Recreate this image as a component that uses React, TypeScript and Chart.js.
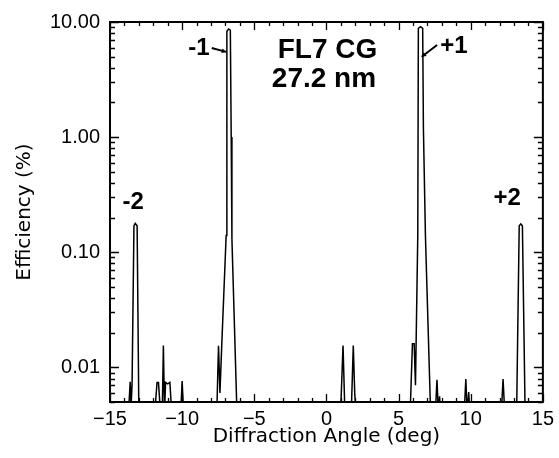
import React, { useEffect, useRef } from "react";
import { Chart, registerables } from "chart.js";

Chart.register(...registerables);

// Diffraction angle (deg) of each sample
const angles = [
  -15.0, -13.72, -13.6, -13.54, -13.47, -13.34, -13.25, -13.12, -13.0,
  -11.9, -11.74, -11.64, -11.5, -11.38, -11.3, -11.22, -11.15, -11.0, -10.85, -10.72,
  -10.1, -10.0, -9.9,
  -7.6, -7.48, -7.38, -7.26, -6.95, -6.9, -6.78, -6.66, -6.6, -6.55, -6.2,
  0.98, 1.15, 1.28, 1.72, 1.86, 1.96, 2.05,
  5.8, 5.96, 6.08, 6.17, 6.33, 6.37, 6.52, 6.67, 6.72, 6.86, 7.22,
  7.55, 7.66, 7.76, 7.84, 7.9,
  9.55, 9.66, 9.76, 9.86, 9.94,
  12.12, 12.24, 12.36,
  13.18, 13.36, 13.47, 13.58, 13.77, 15.0,
];

// Efficiency (%) of each sample (values under 0.005 fall below the axis floor)
const efficiency = [
  0.004, 0.004, 0.0075, 0.0045, 0.0072, 0.17, 0.178, 0.17, 0.004,
  0.004, 0.0074, 0.0074, 0.004, 0.004, 0.0155, 0.004, 0.0074, 0.0072, 0.0074, 0.004,
  0.004, 0.0076, 0.004,
  0.004, 0.0154, 0.006, 0.015, 0.14, 8.3, 8.7, 8.5, 1.0, 0.13, 0.004,
  0.004, 0.0155, 0.004, 0.004, 0.0155, 0.006, 0.004,
  0.004, 0.016, 0.016, 0.007, 0.14, 8.8, 9.1, 8.8, 1.2, 0.14, 0.004,
  0.004, 0.0078, 0.004, 0.0056, 0.004,
  0.004, 0.0079, 0.004, 0.0061, 0.004,
  0.004, 0.0079, 0.004,
  0.004, 0.17, 0.176, 0.17, 0.004, 0.004,
];

const xTickValues = [-15, -10, -5, 0, 5, 10, 15];
const yTickValues = [0.01, 0.1, 1, 10];
const xMin = -15;
const xMax = 15;
const yMin = 0.005;
const yMax = 10;

const xTitle = "Diffraction Angle (deg)";
const yTitle = "Efficiency (%)";
const sampleName = "FL7 CG";
const wavelengthLabel = "27.2 nm";
const orderNames = ["-2", "-1", "+1", "+2"];

const tickFont = "'Liberation Sans', Arial, Helvetica, sans-serif";
const titleFont = "'DejaVu Sans', Verdana, sans-serif";

function arrow(ctx: CanvasRenderingContext2D, x1: number, y1: number, x2: number, y2: number) {
  ctx.beginPath();
  ctx.moveTo(x1, y1);
  ctx.lineTo(x2, y2);
  ctx.stroke();
  const ang = Math.atan2(y2 - y1, x2 - x1);
  const s = 5;
  ctx.beginPath();
  ctx.moveTo(x2, y2);
  ctx.lineTo(x2 - s * Math.cos(ang - 0.5), y2 - s * Math.sin(ang - 0.5));
  ctx.lineTo(x2 - s * Math.cos(ang + 0.5), y2 - s * Math.sin(ang + 0.5));
  ctx.closePath();
  ctx.fill();
}

const framePlugin = {
  id: "frameTicks",
  afterDatasetsDraw(chart: any) {
    const { ctx, chartArea, scales } = chart;
    const { left, right, top, bottom } = chartArea;
    const x = scales.x;
    const y = scales.y;
    ctx.save();
    ctx.strokeStyle = "#000";
    ctx.fillStyle = "#000";
    ctx.lineWidth = 2;
    ctx.strokeRect(left, top, right - left, bottom - top);

    ctx.lineWidth = 1.3;
    ctx.beginPath();
    for (let v = xMin; v <= xMax; v++) {
      const px = Math.round(x.getPixelForValue(v)) + 0.5;
      const len = v % 5 === 0 ? 8 : 4;
      ctx.moveTo(px, bottom);
      ctx.lineTo(px, bottom - len);
      ctx.moveTo(px, top);
      ctx.lineTo(px, top + len);
    }
    for (let d = -3; d <= 1; d++) {
      for (let m = 1; m <= 9; m++) {
        const v = m * Math.pow(10, d);
        if (v < yMin * 0.999 || v > yMax * 1.001) continue;
        const py = Math.round(y.getPixelForValue(v)) + 0.5;
        const len = m === 1 ? 9 : 5;
        ctx.moveTo(left, py);
        ctx.lineTo(left + len, py);
        ctx.moveTo(right, py);
        ctx.lineTo(right - len, py);
      }
    }
    ctx.stroke();

    // annotations
    ctx.textAlign = "center";
    ctx.textBaseline = "middle";
    ctx.font = `bold 28px ${tickFont}`;
    ctx.fillText(sampleName, x.getPixelForValue(0.07), y.getPixelForValue(5.72));
    ctx.fillText(wavelengthLabel, x.getPixelForValue(-0.17), y.getPixelForValue(3.18));

    ctx.font = `bold 24px ${tickFont}`;
    ctx.fillText(orderNames[0], x.getPixelForValue(-13.39), y.getPixelForValue(0.27));
    ctx.fillText(orderNames[1], x.getPixelForValue(-8.84), y.getPixelForValue(5.9));
    ctx.fillText(orderNames[2], x.getPixelForValue(8.84), y.getPixelForValue(6.1));
    ctx.fillText(orderNames[3], x.getPixelForValue(12.53), y.getPixelForValue(0.291));

    ctx.lineWidth = 2;
    arrow(ctx, x.getPixelForValue(-7.95), y.getPixelForValue(5.94), x.getPixelForValue(-6.95), y.getPixelForValue(5.5));
    arrow(ctx, x.getPixelForValue(7.67), y.getPixelForValue(6.31), x.getPixelForValue(6.6), y.getPixelForValue(4.99));
    ctx.restore();
  },
};

export default function App() {
  const canvasRef = useRef<HTMLCanvasElement | null>(null);

  useEffect(() => {
    const canvas = canvasRef.current;
    if (!canvas) return;
    const points = angles.map((a, i) => ({ x: a, y: efficiency[i] }));
    const chart = new Chart(canvas, {
      type: "line",
      data: {
        datasets: [
          {
            data: points,
            borderColor: "#000",
            borderWidth: 1.5,
            pointRadius: 0,
            tension: 0,
            fill: false,
          },
        ],
      },
      options: {
        animation: false,
        responsive: false,
        devicePixelRatio: 1,
        layout: { padding: { top: 14, right: 12, left: 0, bottom: 0 } },
        plugins: {
          legend: { display: false },
          tooltip: { enabled: false },
        },
        scales: {
          x: {
            type: "linear",
            min: xMin,
            max: xMax,
            grid: { display: false, drawTicks: false },
            border: { display: false },
            afterBuildTicks: (scale: any) => {
              scale.ticks = xTickValues.map((value) => ({ value }));
            },
            afterFit: (scale: any) => {
              scale.height = 56;
            },
            ticks: {
              padding: 5,
              color: "#000",
              font: { family: tickFont, size: 20 },
              maxRotation: 0,
              autoSkip: false,
              callback: (v: any) => String(v).replace("-", "\u2212"),
            },
            title: {
              display: true,
              text: xTitle,
              color: "#000",
              font: { family: titleFont, size: 20 },
              padding: { top: 0, bottom: 9 },
            },
          },
          y: {
            type: "logarithmic",
            min: yMin,
            max: yMax,
            grid: { display: false, drawTicks: false },
            border: { display: false },
            afterBuildTicks: (scale: any) => {
              scale.ticks = yTickValues.map((value) => ({ value }));
            },
            afterFit: (scale: any) => {
              scale.width = 110;
            },
            ticks: {
              padding: 10,
              color: "#000",
              font: { family: tickFont, size: 20 },
              autoSkip: false,
              callback: (v: any) => Number(v).toFixed(2),
            },
            title: {
              display: true,
              text: yTitle,
              color: "#000",
              font: { family: titleFont, size: 20 },
              padding: { top: 13, bottom: 0 },
            },
          },
        },
      },
      plugins: [framePlugin],
    });
    return () => chart.destroy();
  }, []);

  return (
    <div style={{ position: "absolute", left: 0, top: 0, width: 559, height: 458, background: "#fff" }}>
      <canvas ref={canvasRef} width={559} height={458} style={{ display: "block" }} />
    </div>
  );
}
